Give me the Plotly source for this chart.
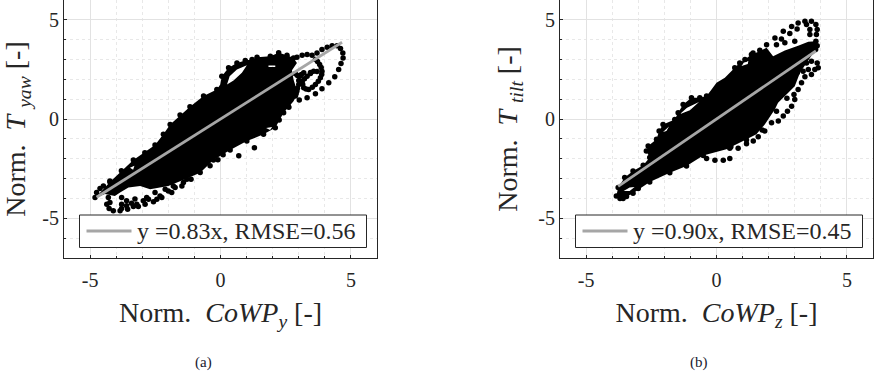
import plotly.graph_objects as go

tick_vals = [-5, 0, 5]
tick_text = ['-5', '0', '5']

# panel (a): outline of the overplotted mass, None separates the gaps inside it
yaw_mass_x = [-4.75, -4.24, -3.34, -2.51, -2.19, -1.93, -1.17, -0.65, -0.14, -0.01, 0.05, 0.31, 0.63, 0.95, 1.21,
              1.40, 1.91, 2.23, 2.55, 2.80, 2.93, 2.74, 2.80, 2.96, 2.80, 2.42, 2.10, 1.65, 1.01, 0.37, -0.27,
              -0.78, -1.36, -2.00, -2.70, -3.08, -3.53, -3.85, -4.05, -4.43, -4.75, None,
              0.25, 0.50, 0.82, 1.01, 0.63, 0.35, 0.25, None,
              1.84, 1.84, 2.10, 2.10, None,
              1.75, 1.90, 1.98, 1.75, None,
              -3.47, -3.35, -3.30, -3.47]
yaw_mass_y = [-3.90, -3.17, -2.06, -1.31, -0.77, -0.27, 0.62, 1.16, 1.49, 1.74, 2.16, 2.58, 2.83, 2.95, 3.00,
              3.12, 3.17, 3.34, 3.22, 3.08, 2.83, 2.46, 1.99, 1.32, 0.90, 0.32, -0.44, -0.77, -1.11, -1.56, -2.06,
              -2.70, -3.03, -3.37, -3.53, -3.37, -3.45, -3.70, -3.87, -3.78, -3.95, None,
              1.74, 1.94, 2.33, 2.71, 2.50, 2.16, 1.74, None,
              2.70, 2.62, 2.62, 2.70, None,
              -0.45, -0.55, -0.40, -0.45, None,
              -2.45, -2.55, -2.35, -2.45]

# panel (a): points that stand clear of the mass or trace its edge
yaw_dots_x = [2.93, 3.13, 3.32, 3.51, 3.70, 3.89, 4.09, 4.28, 4.47, 4.60, 4.69, 4.70, 4.62, 4.53, 4.38, 4.15, 3.89,
              3.64, 3.32, 3.02, 3.64, 3.80, 3.89, 3.83, 3.64, 3.38, 3.19, 3.13, 3.32, 3.57, 3.19, 2.87, 3.45, 3.04,
              3.00, 2.93, 2.87,
              3.72, 3.86, 3.88, 3.75, 3.52, 3.28, 3.15, 3.22, 3.45, 3.70, 3.10, 2.95, 3.00, 2.95, 2.90,
              -4.36, -4.27, -4.11, -3.85, -3.56, -3.34, -3.15, -2.89, -2.57, -2.25, -1.87, -1.48, -1.13, -0.78,
              -3.79, -3.60, -3.28, -2.83, -2.51, -2.12, -1.81,
              -3.79, -3.60, -3.41, -3.21, -3.79, -2.96, -2.76, -2.44, -2.32, -2.00, -1.74, -1.42, -1.29,
              -4.81, -4.75, -4.62, -4.49, -4.24, -4.30, -4.24,
              -4.24, -3.80, -3.34, -2.90, -2.51, -2.19, -1.93, -1.55, -1.17, -0.65, -0.14, 0.05, 0.31, 0.63, 0.95,
              1.21, 1.40, 1.91, 2.23, 2.55, 2.80, 2.42, 2.10, 1.65, 1.01, 0.37, -0.27, 2.62, 1.30, 0.70, 2.25,
              -0.40, -0.10, 0.10, 1.90, 2.60]
yaw_dots_y = [3.12, 3.22, 3.25, 3.22, 3.33, 3.50, 3.62, 3.70, 3.70, 3.55, 3.33, 3.08, 2.80, 2.50, 2.13, 1.83, 1.53,
              1.27, 1.07, 0.96, 3.00, 2.75, 2.41, 2.08, 1.74, 1.49, 1.58, 1.91, 2.16, 2.41, 2.33, 2.28, 2.35, 2.16,
              1.74, 1.41, 1.16,
              2.90, 2.60, 2.25, 1.90, 1.60, 1.52, 1.75, 2.03, 2.30, 2.40, 2.25, 2.20, 1.95, 1.55, 1.28,
              -4.29, -4.50, -4.62, -4.62, -4.54, -4.40, -4.40, -4.29, -4.17, -3.95, -3.70, -3.37, -3.03, -2.69,
              -3.95, -4.12, -4.03, -3.95, -3.70, -3.53, -3.37,
              -4.29, -4.37, -4.24, -4.29, -4.50, -4.12, -4.04, -4.04, -3.87, -3.62, -3.45, -3.20, -3.03,
              -3.95, -3.70, -3.50, -3.37, -3.12, -3.95, -4.20,
              -3.17, -2.60, -2.06, -1.70, -1.31, -0.77, -0.27, 0.20, 0.62, 1.16, 1.49, 2.16, 2.58, 2.83, 2.95,
              3.00, 3.12, 3.17, 3.34, 3.22, 3.08, 0.32, -0.44, -0.77, -1.11, -1.56, -2.06, 0.60, -1.45, -1.85, -0.05,
              -2.35, -2.05, -1.80, -0.15, 0.65]

yaw_fit_x = [-4.75, 4.66]
yaw_fit_y = [-3.94, 3.87]

# panel (b)
tilt_mass_x = [-3.84, -3.77, -3.52, -3.20, -2.81, -2.56, -2.69, -2.62, -2.30, -2.20, -2.05, -1.60, -1.47, -1.28,
               -0.96, -0.64, -0.38, -0.19, 0.00, 0.32, 0.70, 0.89, 1.09, 1.34, 1.66, 1.92, 2.17, 2.62, 3.13, 3.52,
               3.83, 3.83, 3.71, 3.45, 3.20, 3.00, 2.75, 2.36, 2.24, 1.85, 1.53, 1.02, 0.38, -0.51, -1.15, -1.79,
               -2.56, -3.20, -3.58, -3.84, None,
               -1.41, -1.02, -0.67, -1.13, -1.41, None,
               -2.05, -1.92, -1.82, -2.05, None,
               -3.56, -3.33, -3.14, -3.33, -3.56, None,
               0.96, 1.20, 1.22, 1.05, 0.96]
tilt_mass_y = [-3.87, -3.45, -2.95, -2.61, -2.33, -1.94, -1.61, -1.36, -1.02, -0.60, -0.27, -0.02, 0.32, 0.74,
               1.07, 1.07, 1.16, 1.49, 1.83, 2.08, 2.58, 2.83, 3.00, 3.25, 3.42, 3.60, 3.17, 3.45, 3.70, 3.90,
               3.92, 3.67, 3.33, 2.83, 2.33, 1.66, 1.33, 0.82, 0.49, -0.27, -0.77, -1.11, -1.52, -1.83, -2.36, -2.70,
               -3.17, -3.74, -4.00, -3.87, None,
               0.24, 0.45, 0.86, 0.57, 0.24, None,
               -0.65, -0.60, -0.38, -0.65, None,
               -3.62, -3.62, -3.42, -3.45, -3.62, None,
               2.68, 2.78, 2.93, 2.85, 2.68]

tilt_dots_x = [-0.38, -0.06, 0.26, 0.51, 0.51, 0.83, 1.15, 1.41, 1.60, 1.85, 2.11, 2.37, 2.56, 2.72, 2.88, 3.00, 2.97,
               3.13, 3.26, 3.39, 3.64, 3.77, 3.90, 3.86, 3.64, 3.45, 3.52, 3.32,
               2.24, 2.56, 2.88, 3.13, 3.39, 3.64, 3.81, 3.86, 3.83, 3.81, 2.49, 2.81, 3.09, 3.45, 3.58, 3.58,
               1.40, 1.66, 2.30, 2.62, 3.00, 3.86, 3.80,
               -3.84, -3.77, -3.52, -3.20, -2.81, -2.56, -2.69, -2.62, -2.30, -2.20, -2.05, -1.60, -1.47, -1.28,
               -0.96, -0.64, -0.38, 0.70, 0.89, 1.09, 1.34, 1.92, -3.58, -3.20, -2.56, -1.79, -1.15, -0.51,
               -3.70, -3.45, -3.00, -2.85, 1.15, 0.55, 1.75, 2.30, 2.70, 3.10, 3.35]
tilt_dots_y = [-1.99, -2.08, -2.08, -1.99, -1.47, -1.47, -1.24, -1.11, -0.89, -0.60, -0.18, -0.10, 0.15, 0.40, 0.65,
               0.99, 1.24, 1.49, 1.83, 2.13, 2.24, 2.50, 2.58, 2.83, 2.91, 2.83, 2.50, 2.41,
               4.09, 4.42, 4.67, 4.84, 4.93, 4.93, 4.76, 4.51, 4.26, 3.92, 4.04, 4.31, 4.54, 4.76, 4.51, 4.26,
               3.33, 3.47, 3.75, 3.84, 3.92, 3.70, 3.50,
               -3.87, -3.45, -2.95, -2.61, -2.33, -1.94, -1.61, -1.36, -1.02, -0.60, -0.27, -0.02, 0.32, 0.74,
               1.07, 1.07, 1.16, 2.58, 2.83, 3.00, 3.25, 3.75, -4.00, -3.74, -3.17, -2.70, -2.36, -1.83,
               -4.00, -3.90, -3.50, -2.70, -1.05, -1.40, -0.55, 0.40, 1.05, 2.35, 3.00]

tilt_fit_x = [-3.77, 3.81]
tilt_fit_y = [-3.39, 3.43]

legend_labels = ['y =0.83x, RMSE=0.56', 'y =0.90x, RMSE=0.45']

GRID = '#e2e2e2'
GRID_MINOR = '#e8e8e8'
INK = '#262626'
FIT = '#a6a6a6'
SERIF = 'Liberation Serif'

fig = go.Figure()

# mass, loose points and fit line for one panel
def add_panel(mass_x, mass_y, dots_x, dots_y, fit_x, fit_y, label, xa, ya):
    fig.add_trace(go.Scatter(x=mass_x, y=mass_y, mode='none', fill='toself', fillcolor='black',
                             hoverinfo='skip', showlegend=False, xaxis=xa, yaxis=ya))
    fig.add_trace(go.Scatter(x=dots_x, y=dots_y, mode='markers', marker=dict(color='black', size=5.5),
                             showlegend=False, xaxis=xa, yaxis=ya))
    fig.add_trace(go.Scatter(x=fit_x, y=fit_y, mode='lines', line=dict(color=FIT, width=2.8), name=label,
                             showlegend=False, xaxis=xa, yaxis=ya))

add_panel(yaw_mass_x, yaw_mass_y, yaw_dots_x, yaw_dots_y, yaw_fit_x, yaw_fit_y, legend_labels[0], 'x', 'y')
add_panel(tilt_mass_x, tilt_mass_y, tilt_dots_x, tilt_dots_y, tilt_fit_x, tilt_fit_y, legend_labels[1], 'x2', 'y2')

axis_style = dict(tickmode='array', tickvals=tick_vals, ticktext=tick_text, ticks='inside', ticklen=3,
                  tickcolor=INK, showline=True, linecolor=INK, linewidth=1, mirror=True,
                  showgrid=True, gridcolor=GRID, gridwidth=1, zeroline=False,
                  tickfont=dict(family=SERIF, size=20, color=INK),
                  minor=dict(dtick=1, showgrid=True, gridcolor=GRID_MINOR, griddash='dot', gridwidth=1,
                             ticks='inside', ticklen=2, tickcolor=INK))

def x_title(sub):
    return dict(text=f'Norm.\u00a0\u00a0<i>CoWP</i><sub><i>{sub}</i></sub>\u00a0[-]', standoff=12,
                font=dict(family=SERIF, size=28, color=INK))

def y_title(sub):
    return dict(text=f'Norm.\u00a0\u00a0<i>T</i>\u00a0<sub><i>{sub}</i></sub>\u00a0[-]', standoff=12,
                font=dict(family=SERIF, size=28, color=INK))

# legend boxes are drawn by hand: the native legend is too tall for this text size
def legend_box(x0):
    return [dict(type='rect', xref='paper', yref='paper', layer='above', fillcolor='white',
                 line=dict(color=INK, width=1), x0=x0 / 874, x1=(x0 + 287) / 874,
                 y0=1 - 247.5 / 372, y1=1 - 215 / 372),
            dict(type='line', xref='paper', yref='paper', layer='above', line=dict(color=FIT, width=2.8),
                 x0=(x0 + 7) / 874, x1=(x0 + 52) / 874, y0=1 - 231 / 372, y1=1 - 231 / 372)]

def legend_text(x0, label):
    return dict(text=label, x=(x0 + 55) / 874, y=1 - 231 / 372, xref='paper', yref='paper', showarrow=False,
                xanchor='left', yanchor='middle', font=dict(family=SERIF, size=24, color=INK))

def caption(text, x):
    return dict(text=text, x=x / 874, y=1 - 362 / 372, xref='paper', yref='paper', showarrow=False,
                xanchor='center', yanchor='middle', font=dict(family=SERIF, size=15, color='#1a1a2e'))

fig.update_layout(
    width=874, height=372, margin=dict(l=0, r=0, t=0, b=0),
    paper_bgcolor='white', plot_bgcolor='white', showlegend=False,
    xaxis=dict(domain=[64 / 874, 377 / 874], range=[-6, 6], anchor='y', title=x_title('y'),
               ticklabelstandoff=4, **axis_style),
    yaxis=dict(domain=[114 / 372, 1], range=[-7, 6], anchor='x', title=y_title('yaw'), **axis_style),
    xaxis2=dict(domain=[560 / 874, 873 / 874], range=[-6, 6], anchor='y2', title=x_title('z'),
                ticklabelstandoff=4, **axis_style),
    yaxis2=dict(domain=[114 / 372, 1], range=[-7, 6], anchor='x2', title=y_title('tilt'), **axis_style),
    shapes=legend_box(79.5) + legend_box(575.5),
    annotations=[legend_text(79.5, legend_labels[0]), legend_text(575.5, legend_labels[1]),
                 caption('(a)', 203), caption('(b)', 699)],
)

fig.write_html("out.html", config=dict(displayModeBar=False), post_script="document.body.style.margin='0';")
